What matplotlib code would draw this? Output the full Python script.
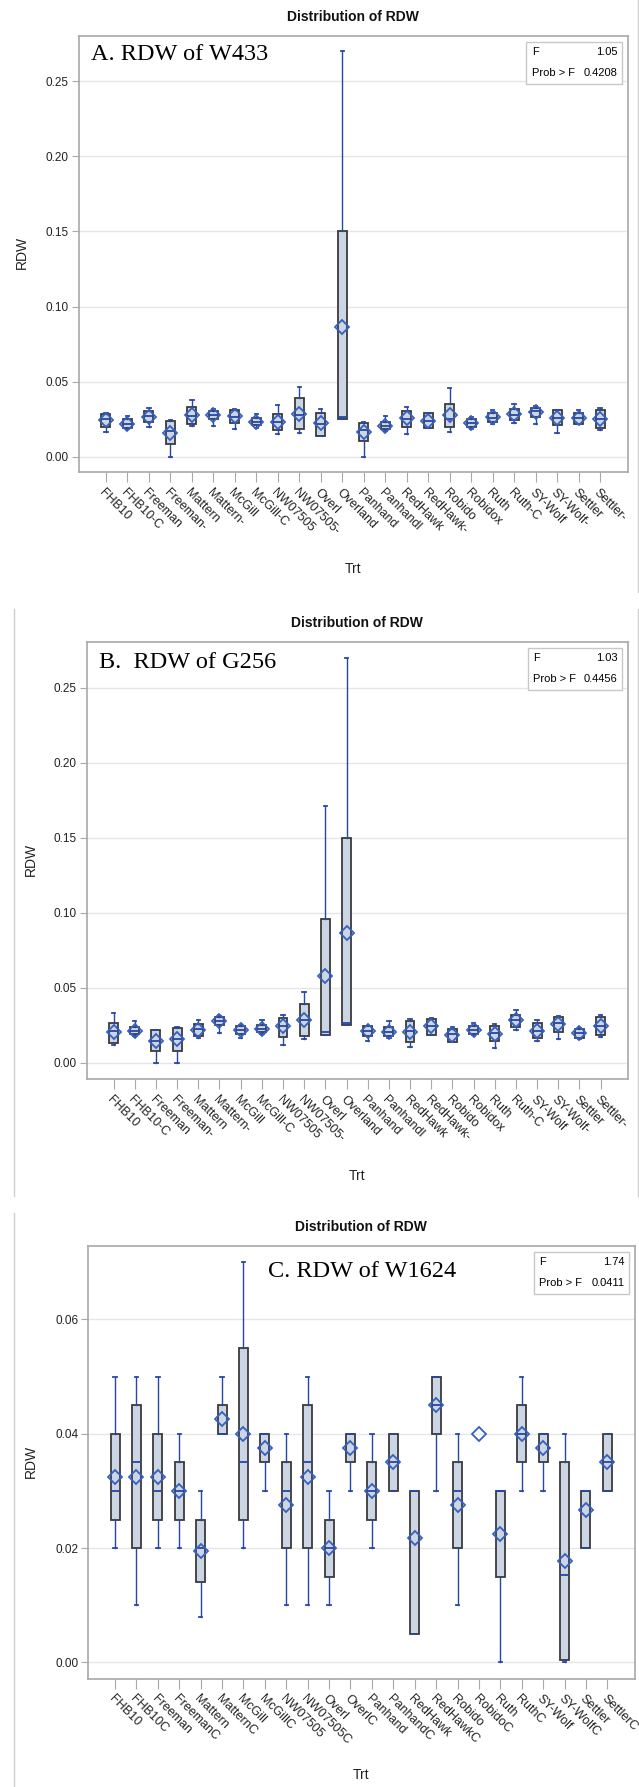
import matplotlib
matplotlib.use("Agg")
import matplotlib.pyplot as plt
from matplotlib.lines import Line2D
from matplotlib.patches import Rectangle

W, H = 639, 1787

CATS_AB = ["FHB10", "FHB10-C", "Freeman", "Freeman-", "Mattern", "Mattern-", "McGill", "McGill-C",
           "NW07505", "NW07505-", "Overl", "Overland", "Panhand", "Panhandl", "RedHawk", "RedHawk-",
           "Robido", "Robidox", "Ruth", "Ruth-C", "SY-Wolf", "SY-Wolf-", "Settler", "Settler-"]
CATS_C = ["FHB10", "FHB10C", "Freeman", "FreemanC", "Mattern", "MatternC", "McGill", "McGillC",
          "NW07505", "NW07505C", "Overl", "OverlC", "Panhand", "PanhandC", "RedHawk", "RedHawkC",
          "Robido", "RobidoC", "Ruth", "RuthC", "SY-Wolf", "SY-WolfC", "Settler", "SettlerC"]

# A. RDW of W433
A_LO = [0.0166, 0.0181, 0.0199, 0.0, 0.0201, 0.0201, 0.0183, 0.0188, 0.015, 0.0159, 0.0139, 0.025,
        0.0, 0.017, 0.015, 0.0188, 0.0166, 0.0183, 0.0217, 0.0221, 0.0217, 0.0159, 0.0214, 0.0177]
A_Q1 = [0.0199, 0.0188, 0.0232, 0.0081, 0.0217, 0.0248, 0.0226, 0.0208, 0.0177, 0.0183, 0.0139, 0.025,
        0.0106, 0.0183, 0.0199, 0.0188, 0.0199, 0.0194, 0.0228, 0.0243, 0.0266, 0.021, 0.0214, 0.0188]
A_MED = [0.025, 0.0214, 0.027, 0.017, 0.027, 0.0277, 0.0266, 0.0228, 0.0232, 0.0277, 0.022, 0.0265,
         0.0175, 0.0206, 0.025, 0.0239, 0.025, 0.0226, 0.0254, 0.0277, 0.0303, 0.0254, 0.0254, 0.025]
A_Q3 = [0.0285, 0.0248, 0.0301, 0.0234, 0.0332, 0.0303, 0.031, 0.0254, 0.0283, 0.0392, 0.0292, 0.15,
        0.0226, 0.0228, 0.0303, 0.0292, 0.035, 0.0248, 0.0288, 0.0317, 0.0321, 0.031, 0.0288, 0.031]
A_HI = [0.029, 0.0272, 0.0326, 0.0243, 0.0377, 0.0314, 0.0317, 0.0283, 0.0343, 0.0466, 0.0317, 0.27,
        0.0228, 0.0272, 0.0332, 0.0292, 0.0459, 0.0261, 0.031, 0.035, 0.0339, 0.031, 0.031, 0.0326]
A_MEAN = [0.0245, 0.0217, 0.0266, 0.0159, 0.0277, 0.0277, 0.027, 0.0228, 0.0232, 0.0283, 0.0221, 0.0865,
          0.0166, 0.0206, 0.0254, 0.0239, 0.0277, 0.0226, 0.0261, 0.0281, 0.0299, 0.0254, 0.0254, 0.025]

# B. RDW of G256
B_LO = [0.0116, 0.018, 0.0, 0.0, 0.0164, 0.0198, 0.0164, 0.0191, 0.012, 0.0158, 0.0187, 0.0249,
        0.0147, 0.0164, 0.0104, 0.0182, 0.0138, 0.0187, 0.0098, 0.0216, 0.0142, 0.0158, 0.0158, 0.0171]
B_Q1 = [0.0131, 0.0191, 0.008, 0.008, 0.0176, 0.0249, 0.0191, 0.0202, 0.0171, 0.0178, 0.0187, 0.0249,
        0.0176, 0.018, 0.0136, 0.0187, 0.0138, 0.0193, 0.0147, 0.0238, 0.0164, 0.0204, 0.0164, 0.0187]
B_MED = [0.0209, 0.0213, 0.0147, 0.016, 0.0224, 0.028, 0.022, 0.0224, 0.0242, 0.0287, 0.0204, 0.0262,
         0.0209, 0.0204, 0.021, 0.0242, 0.0191, 0.022, 0.0198, 0.0282, 0.0215, 0.0264, 0.0198, 0.0242]
B_Q3 = [0.0264, 0.0238, 0.0216, 0.0231, 0.0258, 0.0304, 0.0242, 0.0249, 0.0298, 0.0389, 0.096, 0.15,
        0.0242, 0.0236, 0.0276, 0.0293, 0.0224, 0.0247, 0.0242, 0.0316, 0.0264, 0.0304, 0.0224, 0.0302]
B_HI = [0.0331, 0.0276, 0.022, 0.0236, 0.0282, 0.0313, 0.0253, 0.0282, 0.0316, 0.0471, 0.171, 0.27,
        0.0247, 0.0276, 0.0291, 0.0298, 0.0238, 0.0264, 0.0258, 0.0349, 0.0282, 0.0309, 0.0231, 0.032]
B_MEAN = [0.0202, 0.0213, 0.0147, 0.016, 0.022, 0.0276, 0.022, 0.0224, 0.0242, 0.0287, 0.0578, 0.0865,
          0.0209, 0.0204, 0.0204, 0.0242, 0.0182, 0.022, 0.0191, 0.0282, 0.0209, 0.0258, 0.0198, 0.0242]

# C. RDW of W1624
C_LO = [0.02, 0.01, 0.02, 0.02, 0.008, 0.04, 0.02, 0.03, 0.01, 0.01, 0.01, 0.03,
        0.02, 0.03, 0.005, 0.03, 0.01, 0.04, 0.0, 0.03, 0.03, 0.0, 0.02, 0.03]
C_Q1 = [0.025, 0.02, 0.025, 0.025, 0.014, 0.04, 0.025, 0.035, 0.02, 0.02, 0.015, 0.035,
        0.025, 0.03, 0.005, 0.04, 0.02, 0.04, 0.015, 0.035, 0.035, 0.0005, 0.02, 0.03]
C_MED = [0.03, 0.035, 0.03, 0.03, 0.02, 0.04, 0.035, 0.04, 0.03, 0.035, 0.02, 0.04,
         0.03, 0.035, 0.03, 0.045, 0.03, 0.04, 0.03, 0.04, 0.04, 0.0153, 0.03, 0.035]
C_Q3 = [0.04, 0.045, 0.04, 0.035, 0.025, 0.045, 0.055, 0.04, 0.035, 0.045, 0.025, 0.04,
        0.035, 0.04, 0.03, 0.05, 0.035, 0.04, 0.03, 0.045, 0.04, 0.035, 0.03, 0.04]
C_HI = [0.05, 0.05, 0.05, 0.04, 0.03, 0.05, 0.07, 0.04, 0.04, 0.05, 0.03, 0.04,
        0.04, 0.04, 0.03, 0.05, 0.04, 0.04, 0.03, 0.05, 0.04, 0.04, 0.03, 0.04]
C_MEAN = [0.0325, 0.0325, 0.0325, 0.03, 0.0195, 0.0425, 0.04, 0.0375, 0.0275, 0.0325, 0.02, 0.0375,
          0.03, 0.035, 0.0218, 0.045, 0.0275, 0.04, 0.0225, 0.04, 0.0375, 0.0178, 0.0266, 0.035]

BOX_FILL = "#CBD5E4"
BOX_EDGE = "#3A3A3A"
WHISK = "#2746A6"
MEAN_C = "#3560C0"
GRID = "#E6E6E6"
FRAME = "#A8A8A8"


def _px_axes(fig, left, right, top, bottom):
    return fig.add_axes([left / W, 1 - bottom / H, (right - left) / W, (bottom - top) / H])


def _panel(ax, cats, lo, q1, med, q3, hi, mean, ylim, yticks, fmt, label, label_xy, f_val, p_val):
    pos = list(range(len(cats)))
    stats = []
    spos = []
    for i in pos:
        if hi[i] - lo[i] <= 0:
            continue  # nur Mittelwert
        stats.append(dict(med=med[i], q1=q1[i], q3=q3[i], whislo=lo[i], whishi=hi[i], fliers=[]))
        spos.append(i)
    ax.bxp(stats, positions=spos, widths=0.42, patch_artist=True, showfliers=False,
           showmeans=False, manage_ticks=False, capwidths=0.16,
           boxprops=dict(facecolor=BOX_FILL, edgecolor=BOX_EDGE, linewidth=1.3),
           whiskerprops=dict(color=WHISK, linewidth=1.0),
           capprops=dict(color=WHISK, linewidth=1.3),
           medianprops=dict(color=WHISK, linewidth=1.3))
    ax.plot(pos, mean, linestyle="none", marker="D", markersize=7, markerfacecolor="none",
            markeredgecolor=MEAN_C, markeredgewidth=1.3, zorder=5)

    ax.set_xlim(-1.27, len(cats) - 1 + 1.27)
    ax.set_ylim(*ylim)
    ax.set_yticks(yticks)
    ax.set_yticklabels([fmt.format(v) for v in yticks])
    ax.set_xticks(pos)
    ax.set_xticklabels(cats, rotation=-45, ha="left", va="top", rotation_mode="anchor")
    ax.grid(axis="y", color=GRID, linewidth=1.0)
    ax.set_axisbelow(True)
    for s in ax.spines.values():
        s.set_color(FRAME)
        s.set_linewidth(1.2)
    ax.tick_params(axis="y", length=5, color=FRAME, labelsize=8.5, labelcolor="#222222", pad=2)
    ax.tick_params(axis="x", length=7, color=FRAME, labelsize=9, labelcolor="#222222", pad=3)

    ax.text(0.5, 1.044, "Distribution of RDW", transform=ax.transAxes, ha="center", va="center",
            fontsize=10, fontweight="bold", color="#111111")
    ax.text(0.5, -0.222, "Trt", transform=ax.transAxes, ha="center", va="center",
            fontsize=10, color="#222222")
    ax.text(-0.104, 0.503, "RDW", transform=ax.transAxes, ha="center", va="center",
            rotation=90, fontsize=10, color="#222222")
    ax.text(label_xy[0], label_xy[1], label, transform=ax.transAxes, ha="left", va="center",
            fontsize=17.5, family="Liberation Serif", color="#000000")

    ax.add_patch(Rectangle((0.816, 0.89), 0.174, 0.096, transform=ax.transAxes,
                           facecolor="white", edgecolor="#C8C8C8", linewidth=1.0, zorder=6))
    ax.text(0.826, 0.963, "F", transform=ax.transAxes, ha="left", va="center", fontsize=8, zorder=7)
    ax.text(0.982, 0.963, f_val, transform=ax.transAxes, ha="right", va="center", fontsize=8, zorder=7)
    ax.text(0.826, 0.915, "Prob > F", transform=ax.transAxes, ha="left", va="center", fontsize=8, zorder=7)
    ax.text(0.982, 0.915, p_val, transform=ax.transAxes, ha="right", va="center", fontsize=8, zorder=7)


def _vline(fig, x, y0, y1):
    fig.add_artist(Line2D([x / W, x / W], [1 - y0 / H, 1 - y1 / H], transform=fig.transFigure,
                          color="#CFCFCF", linewidth=1.0))


def build():
    plt.rcParams["font.family"] = ["Liberation Sans", "DejaVu Sans"]
    fig = plt.figure(figsize=(W / 100, H / 100), dpi=100)
    fig.patch.set_facecolor("white")

    ab_ticks = [0.0, 0.05, 0.10, 0.15, 0.20, 0.25]

    ax_a = _px_axes(fig, 78.5, 627.5, 36, 472.3)
    _panel(ax_a, CATS_AB, A_LO, A_Q1, A_MED, A_Q3, A_HI, A_MEAN, (-0.0105, 0.2803), ab_ticks,
           "{:.2f}", "A. RDW of W433", (0.023, 0.957), "1.05", "0.4208")

    ax_b = _px_axes(fig, 86.7, 627.5, 642.3, 1079.3)
    _panel(ax_b, CATS_AB, B_LO, B_Q1, B_MED, B_Q3, B_HI, B_MEAN, (-0.011, 0.2803), ab_ticks,
           "{:.2f}", "B.  RDW of G256", (0.023, 0.953), "1.03", "0.4456")

    ax_c = _px_axes(fig, 87.9, 634.5, 1246.3, 1679)
    _panel(ax_c, CATS_C, C_LO, C_Q1, C_MED, C_Q3, C_HI, C_MEAN, (-0.0029, 0.0728),
           [0.0, 0.02, 0.04, 0.06], "{:.2f}", "C. RDW of W1624", (0.33, 0.941), "1.74", "0.0411")

    # Ränder der eingefügten Bilder
    _vline(fig, 638, 0, 592)
    _vline(fig, 13.5, 609, 1196)
    _vline(fig, 638, 609, 1196)
    _vline(fig, 13.5, 1213, 1787)

    fig.savefig("out.png", dpi=100, facecolor="white")
    plt.close(fig)


if __name__ == "__main__":
    build()
